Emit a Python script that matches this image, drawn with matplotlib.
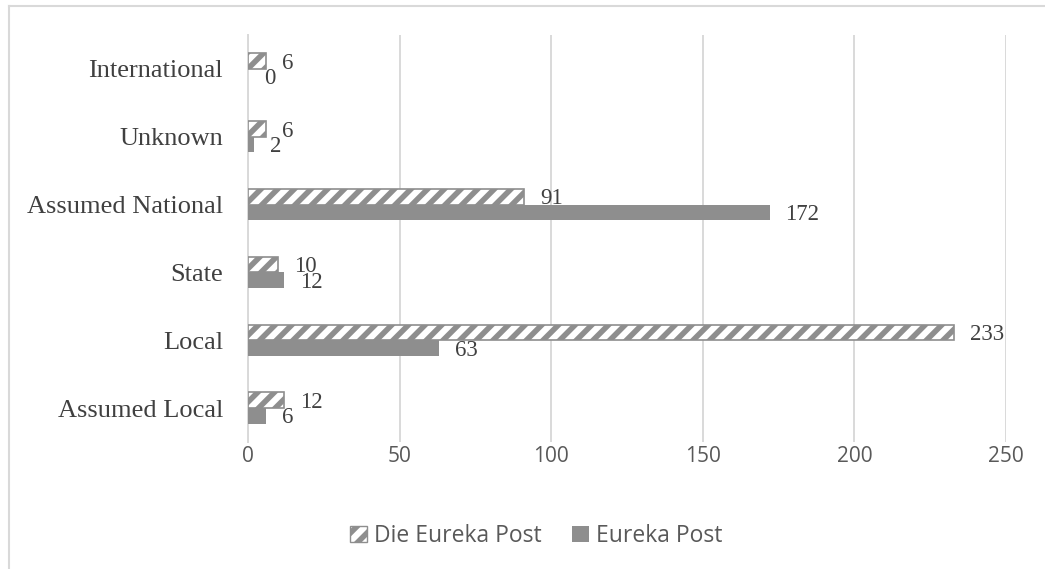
import matplotlib
matplotlib.use("Agg")
import matplotlib.pyplot as plt
import numpy as np
from matplotlib.patches import Patch
from matplotlib.lines import Line2D

categories = ["Assumed Local", "Local", "State", "Assumed National", "Unknown", "International"]
die_eureka_post = [12, 233, 10, 91, 6, 6]
eureka_post = [6, 63, 12, 172, 2, 0]
x_ticks = [0, 50, 100, 150, 200, 250]

GREY = "#8e8e8e"
GRID = "#d9d9d9"
TXT = "#404040"
TICK = "#595959"

plt.rcParams["hatch.linewidth"] = 4.0
plt.rcParams["hatch.color"] = GREY

fig = plt.figure(figsize=(10.45, 5.69), dpi=100)
ax = fig.add_axes([248/1045, 1-442/569, (1006-248)/1045, (442-35)/569])

y = np.arange(len(categories))
h = 0.23
ax.barh(y + h/2, die_eureka_post, height=h, color="white", edgecolor=GREY,
        hatch="//", linewidth=1.2, zorder=3)
ax.barh(y - h/2, eureka_post, height=h, color=GREY, edgecolor="none", zorder=3)

for yi, v in zip(y, die_eureka_post):
    ax.annotate(str(v), (v, yi + h/2), xytext=(11.5, -1.5), textcoords="offset points",
                ha="left", va="center", fontsize=16.5, family="Liberation Serif", color=TXT)
for yi, v in zip(y, eureka_post):
    ax.annotate(str(v), (v, yi - h/2), xytext=(11.5, -1.5), textcoords="offset points",
                ha="left", va="center", fontsize=16.5, family="Liberation Serif", color=TXT)

ax.set_xlim(0, 250)
ax.set_ylim(-0.5, len(categories) - 0.5)
ax.set_xticks(x_ticks)
ax.set_xticklabels([str(t) for t in x_ticks], family="Open Sans", fontsize=15, color=TICK)
ax.set_yticks(y)
ax.set_yticklabels(categories, family="Liberation Serif", fontsize=19, color=TXT)
ax.tick_params(axis="both", length=0)
ax.tick_params(axis="x", pad=3)
ax.tick_params(axis="y", pad=18)
ax.grid(axis="x", color=GRID, linewidth=1.4, zorder=0)
for s in ["top", "right", "bottom"]:
    ax.spines[s].set_visible(False)
ax.spines["left"].set_color(GRID)
ax.spines["left"].set_linewidth(1.4)
ax.set_axisbelow(True)

handles = [Patch(facecolor="white", edgecolor=GREY, hatch="//", linewidth=1.0, label="Die Eureka Post"),
           Patch(facecolor=GREY, edgecolor="none", label="Eureka Post")]
fig.legend(handles=handles, loc="center", bbox_to_anchor=(536/1045, 1-536/569), ncol=2,
           frameon=False, prop={"family": "Open Sans", "size": 16.5}, labelcolor=TICK,
           handlelength=0.75, handleheight=0.75, handletextpad=0.3, columnspacing=1.3)

# outer chart border (top and left visible)
fig.add_artist(Line2D([9/1045, 1.0], [1-6/569, 1-6/569], transform=fig.transFigure, color=GRID, linewidth=1.5))
fig.add_artist(Line2D([9/1045, 9/1045], [0, 1-6/569], transform=fig.transFigure, color=GRID, linewidth=1.5))

fig.savefig("out.png", dpi=100)
